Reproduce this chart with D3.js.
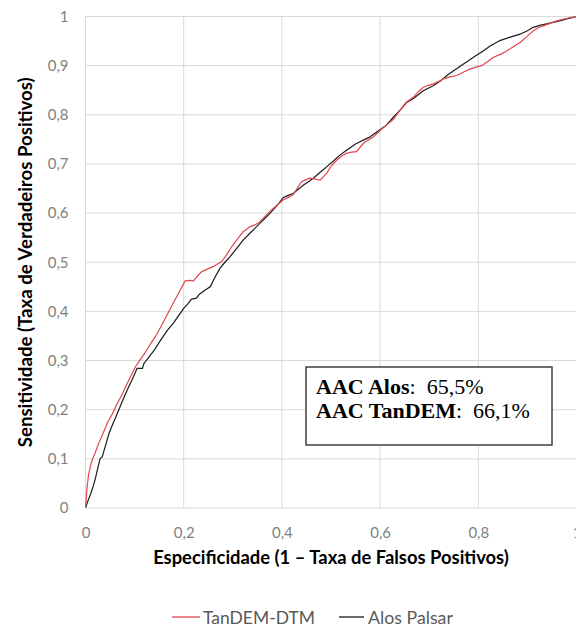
<!DOCTYPE html>
<html>
<head>
<meta charset="utf-8">
<script src="https://cdn.jsdelivr.net/npm/d3@7"></script>
<style>
  html, body { margin: 0; padding: 0; background: #fff; }
  svg { display: block; }
</style>
</head>
<body>
<svg id="chart" width="576" height="628"></svg>
<script>
// ---- Data ----
const tandemX = [0,0.003,0.006,0.01,0.014,0.02,0.027,0.035,0.044,0.055,0.065,0.074,0.082,0.092,0.102,0.11,0.116,0.125,0.133,0.142,0.15,0.162,0.175,0.19,0.203,0.212,0.22,0.228,0.237,0.25,0.26,0.268,0.277,0.288,0.298,0.31,0.321,0.335,0.345,0.355,0.366,0.376,0.39,0.403,0.413,0.423,0.432,0.44,0.449,0.457,0.468,0.478,0.491,0.5,0.512,0.522,0.532,0.542,0.552,0.566,0.576,0.586,0.6,0.613,0.627,0.641,0.654,0.668,0.678,0.688,0.698,0.708,0.72,0.729,0.742,0.756,0.77,0.783,0.795,0.807,0.82,0.831,0.845,0.858,0.872,0.885,0.9,0.912,0.922,0.932,0.946,0.96,0.975,0.987,1];
const tandemY = [0,0.04,0.066,0.085,0.099,0.113,0.132,0.15,0.172,0.192,0.213,0.23,0.247,0.268,0.288,0.3,0.308,0.322,0.335,0.348,0.362,0.385,0.41,0.438,0.462,0.463,0.462,0.472,0.481,0.487,0.491,0.496,0.501,0.516,0.532,0.548,0.562,0.572,0.576,0.582,0.594,0.604,0.616,0.627,0.632,0.637,0.652,0.664,0.668,0.671,0.669,0.667,0.681,0.695,0.708,0.716,0.722,0.724,0.725,0.742,0.749,0.755,0.768,0.779,0.791,0.81,0.826,0.836,0.847,0.856,0.86,0.863,0.868,0.873,0.877,0.88,0.887,0.893,0.897,0.9,0.909,0.917,0.923,0.93,0.939,0.947,0.96,0.971,0.977,0.981,0.986,0.991,0.995,0.998,1];

const alosX = [0,0.004,0.011,0.016,0.021,0.026,0.03,0.034,0.041,0.048,0.056,0.065,0.075,0.085,0.094,0.102,0.105,0.116,0.119,0.13,0.14,0.152,0.167,0.179,0.19,0.2,0.208,0.216,0.226,0.232,0.243,0.254,0.264,0.274,0.284,0.294,0.308,0.321,0.338,0.355,0.366,0.376,0.39,0.403,0.413,0.423,0.434,0.444,0.454,0.464,0.478,0.491,0.505,0.518,0.529,0.539,0.549,0.559,0.569,0.579,0.596,0.613,0.627,0.641,0.654,0.668,0.688,0.708,0.722,0.736,0.752,0.769,0.78,0.79,0.81,0.824,0.844,0.865,0.885,0.9,0.912,0.925,0.939,0.952,0.966,0.98,0.993,1];
const alosY = [0,0.012,0.03,0.045,0.064,0.085,0.101,0.104,0.128,0.152,0.172,0.193,0.217,0.24,0.259,0.277,0.284,0.284,0.294,0.308,0.321,0.34,0.362,0.376,0.392,0.406,0.415,0.425,0.427,0.435,0.443,0.45,0.47,0.488,0.5,0.511,0.528,0.545,0.562,0.579,0.59,0.6,0.615,0.632,0.636,0.64,0.649,0.657,0.664,0.671,0.683,0.694,0.706,0.718,0.726,0.733,0.74,0.745,0.75,0.755,0.767,0.779,0.795,0.81,0.825,0.833,0.849,0.859,0.868,0.88,0.891,0.903,0.91,0.917,0.93,0.94,0.951,0.958,0.964,0.971,0.978,0.982,0.985,0.988,0.991,0.995,0.998,1];

const xTicks = [0,0.2,0.4,0.6,0.8,1];
const yTicks = [0,0.1,0.2,0.3,0.4,0.5,0.6,0.7,0.8,0.9,1];
const seriesNames = ["TanDEM-DTM","Alos Palsar"];
const xTitle = "Especificidade (1 – Taxa de Falsos Positivos)";
const yTitle = "Sensitividade (Taxa de Verdadeiros Positivos)";
const annotLines = [["AAC Alos", ":  65,5%"],["AAC TanDEM", ":  66,1%"]];

// ---- Layout ----
const svg = d3.select("#chart");
const L = 85.5, R = 576.5, T = 16.5, B = 508;
const x = d3.scaleLinear().domain([0,1]).range([L,R]);
const y = d3.scaleLinear().domain([0,1]).range([B,T]);
const fmt = d => d3.format("")(+d.toFixed(1)).replace(".", ",");
const sans = "Lato, 'Open Sans', sans-serif";

function fitText(sel, w) {
  const n = sel.node().getComputedTextLength();
  const fs = parseFloat(sel.style("font-size"));
  sel.style("font-size", (fs * w / n) + "px");
}

// grid
const grid = svg.append("g");
grid.selectAll("line.h").data(yTicks).enter().append("line")
  .attr("x1", L).attr("x2", R).attr("y1", d => y(d)).attr("y2", d => y(d))
  .attr("stroke", "#d9d9d9").attr("stroke-width", 1);
grid.selectAll("line.v").data(xTicks).enter().append("line")
  .attr("y1", T).attr("y2", B).attr("x1", d => x(d)).attr("x2", d => x(d))
  .attr("stroke", "#d9d9d9").attr("stroke-width", 1);

// axes (labels only)
const yAxis = svg.append("g").attr("transform", `translate(${L},0)`)
  .call(d3.axisLeft(y).tickValues(yTicks).tickSize(0).tickPadding(17).tickFormat(fmt));
const xAxis = svg.append("g").attr("transform", `translate(0,${B})`)
  .call(d3.axisBottom(x).tickValues(xTicks).tickSize(0).tickPadding(19).tickFormat(fmt));
[yAxis, xAxis].forEach(a => {
  a.select(".domain").remove();
  a.selectAll("text").attr("fill", "#7f7f7f").style("font-family", sans).style("font-size", "15px");
});

// lines
const line = d3.line().x(d => x(d[0])).y(d => y(d[1]));
const tandem = tandemX.map((v,i) => [v, tandemY[i]]);
const alos = alosX.map((v,i) => [v, alosY[i]]);
svg.append("path").datum(alos).attr("d", line)
  .attr("fill", "none").attr("stroke", "#1a1a1a").attr("stroke-width", 1.2);
svg.append("path").datum(tandem).attr("d", line)
  .attr("fill", "none").attr("stroke", "#e0474e").attr("stroke-width", 1.2);

// axis titles
const xt = svg.append("text").attr("x", (L+R)/2).attr("y", 564)
  .attr("text-anchor", "middle").style("font-family", sans).style("font-weight", "bold")
  .style("font-size", "15px").attr("fill", "#000").text(xTitle);
fitText(xt, 356);
const yt = svg.append("text").attr("transform", `translate(31.5,${(T+B)/2}) rotate(-90)`)
  .attr("text-anchor", "middle").style("font-family", sans).style("font-weight", "bold")
  .style("font-size", "15px").attr("fill", "#000").text(yTitle);
fitText(yt, 370);

// annotation box
svg.append("rect").attr("x", 306).attr("y", 367).attr("width", 246).attr("height", 78)
  .attr("fill", "#fff").attr("stroke", "#404040").attr("stroke-width", 1.5);
annotLines.forEach((ln, i) => {
  const t = svg.append("text").attr("x", 316).attr("y", 394 + i*24)
    .style("font-family", "'Liberation Serif', 'Times New Roman', serif")
    .style("font-size", "22px").attr("fill", "#000").attr("xml:space", "preserve");
  t.append("tspan").style("font-weight", "bold").text(ln[0]);
  t.append("tspan").text(ln[1]);
});

// legend
const legend = [
  {name: seriesNames[0], color: "#e0474e", x1: 172, x2: 200, tx: 203, w: 112},
  {name: seriesNames[1], color: "#1a1a1a", x1: 339, x2: 364, tx: 368, w: 85}
];
const lg = svg.append("g");
legend.forEach(d => {
  lg.append("line").attr("x1", d.x1).attr("x2", d.x2).attr("y1", 617).attr("y2", 617)
    .attr("stroke", d.color).attr("stroke-width", 1.3);
  const t = lg.append("text").attr("x", d.tx).attr("y", 623.5).style("font-family", sans)
    .style("font-size", "15px").attr("fill", "#595959").text(d.name);
  fitText(t, d.w);
});
</script>
</body>
</html>
